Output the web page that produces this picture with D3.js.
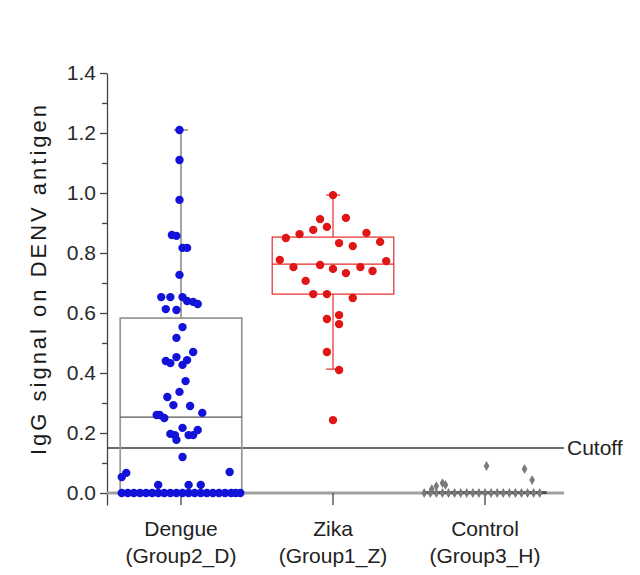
<!DOCTYPE html>
<html><head><meta charset="utf-8">
<script src="https://cdn.jsdelivr.net/npm/d3@7"></script>
<style>body{margin:0;background:#fff}</style>
</head><body>
<svg id="chart" width="640" height="575"></svg>
<script>
// Categories and their sub-labels
const categories = ["Dengue", "Zika", "Control"];
const groupLabels = ["(Group2_D)", "(Group1_Z)", "(Group3_H)"];
const yTickValues = [0, 0.2, 0.4, 0.6, 0.8, 1.0, 1.2, 1.4];
const yMinorValues = [0.1, 0.3, 0.5, 0.7, 0.9, 1.1, 1.3];
const cutoff = 0.15;

// IgG signal per sample, with horizontal jitter (in category units)
const dengueValues = [1.21, 1.11, 0.977, 0.86, 0.857, 0.817, 0.817, 0.727, 0.653, 0.653, 0.653, 0.64, 0.637, 0.63,
  0.613, 0.61, 0.553, 0.517, 0.44, 0.433, 0.453, 0.427, 0.443, 0.47, 0.373, 0.337, 0.32, 0.293, 0.29, 0.267,
  0.26, 0.26, 0.25, 0.197, 0.193, 0.177, 0.217, 0.193, 0.193, 0.21, 0.12, 0.053, 0.067, 0.07, 0.027, 0.027, 0.027,
  0, 0, 0, 0, 0, 0, 0, 0, 0, 0, 0, 0, 0, 0, 0, 0, 0, 0, 0, 0, 0];
const dengueJitter = [-0.01, -0.01, -0.01, -0.06, -0.03, 0.01, 0.04, -0.01, -0.13, -0.07, 0.01, 0.04, 0.08, 0.11,
  -0.10, -0.03, 0.01, -0.03, -0.10, -0.07, -0.03, 0.01, 0.04, 0.08, 0.03, -0.01, -0.09, -0.05, 0.06, 0.14,
  -0.16, -0.14, -0.11, -0.07, -0.04, -0.03, 0.01, 0.05, 0.08, 0.11, 0.01, -0.39, -0.36, 0.32, -0.15, 0.05, 0.13,
  -0.39, -0.35, -0.31, -0.27, -0.23, -0.19, -0.15, -0.11, -0.07, -0.03, 0.01, 0.05, 0.09, 0.13, 0.17, 0.21, 0.25,
  0.29, 0.33, 0.36, 0.39];

const zikaValues = [0.993, 0.913, 0.917, 0.887, 0.877, 0.863, 0.85, 0.867, 0.833, 0.823, 0.837, 0.777, 0.773,
  0.753, 0.76, 0.747, 0.733, 0.753, 0.74, 0.707, 0.663, 0.663, 0.65, 0.58, 0.593, 0.563, 0.47, 0.41, 0.243];
const zikaJitter = [0, -0.085, 0.085, -0.04, -0.13, -0.22, -0.31, 0.22, 0.04, 0.13, 0.31, -0.35, 0.35,
  -0.26, -0.085, 0, 0.085, 0.18, 0.26, -0.18, -0.13, -0.04, 0.13, -0.04, 0.04, 0.04, -0.04, 0.04, 0];

const controlValues = [0.09, 0.08, 0.043, 0.023, 0.033, 0.027, 0.013,
  0, 0, 0, 0, 0, 0, 0, 0, 0, 0, 0, 0, 0, 0, 0, 0, 0, 0, 0, 0];
const controlJitter = [0.01, 0.26, 0.31, -0.32, -0.28, -0.26, -0.35,
  -0.4, -0.36, -0.32, -0.28, -0.24, -0.2, -0.16, -0.12, -0.08, -0.04, 0, 0.04, 0.08, 0.12, 0.16, 0.2, 0.24, 0.28, 0.32, 0.36];

// Box statistics: [lower whisker, Q1, median, Q3, upper whisker]
const dengueBox = [0, 0, 0.253, 0.583, 1.21];
const zikaBox = [0.413, 0.663, 0.763, 0.853, 0.993];
const controlBox = [0, 0, 0, 0.003, 0];

const groups = [
  {name: "Dengue", values: dengueValues, jitter: dengueJitter, box: dengueBox, color: "#1212d8", boxColor: "#9a9a9a", medColor: "#555", shape: "circle"},
  {name: "Zika", values: zikaValues, jitter: zikaJitter, box: zikaBox, color: "#e01515", boxColor: "#e62a2a", medColor: "#e62a2a", shape: "circle"},
  {name: "Control", values: controlValues, jitter: controlJitter, box: controlBox, color: "#7a7a7a", boxColor: "#4a4a4a", medColor: "#4a4a4a", shape: "diamond"}
];

const svg = d3.select("#chart");
const font = "'Liberation Sans', Arial, sans-serif";

const x = d3.scalePoint().domain(categories).range([181, 485]);
const xUnit = x.step();            // pixels per category unit
const y = d3.scaleLinear().domain([-0.04, 1.4]).range([505, 73]);
const plotLeft = 107, plotRight = 564;
const boxHalf = 0.4 * xUnit;

// Y axis with major and minor ticks
const yAxis = svg.append("g").attr("transform", `translate(${plotLeft},0)`)
  .call(d3.axisLeft(y).tickValues(yTickValues).tickFormat(d3.format(".1f")).tickSize(7).tickPadding(4).tickSizeOuter(0));
yAxis.select(".domain").attr("stroke", "#444").attr("stroke-width", 1.3);
yAxis.selectAll(".tick line").attr("stroke", "#444").attr("stroke-width", 1.3);
yAxis.selectAll(".tick text").attr("font-family", font).attr("font-size", 21).attr("fill", "#2a2a2a");
const yMinor = svg.append("g").attr("transform", `translate(${plotLeft},0)`)
  .call(d3.axisLeft(y).tickValues(yMinorValues).tickFormat("").tickSize(5).tickSizeOuter(0));
yMinor.select(".domain").remove();
yMinor.selectAll(".tick line").attr("stroke", "#444").attr("stroke-width", 1.3);

// Axis title
svg.append("text")
  .attr("transform", `translate(46,${(y(0) + y(1.4)) / 2 - 3}) rotate(-90)`)
  .attr("text-anchor", "middle")
  .attr("font-family", font).attr("font-size", 22).attr("fill", "#1a1a1a")
  .attr("textLength", 350).attr("lengthAdjust", "spacing")
  .text("IgG signal on DENV antigen");

// Reference line at zero
svg.append("line")
  .attr("x1", plotLeft).attr("x2", plotRight).attr("y1", y(0)).attr("y2", y(0))
  .attr("stroke", "#a0a0a0").attr("stroke-width", 3);

// Category ticks
svg.append("g").selectAll("line").data(categories).join("line")
  .attr("x1", d => x(d)).attr("x2", d => x(d))
  .attr("y1", y(0)).attr("y2", y(-0.04))
  .attr("stroke", "#444").attr("stroke-width", 1.3);

// Cutoff line
svg.append("line")
  .attr("x1", plotLeft).attr("x2", plotRight).attr("y1", y(cutoff)).attr("y2", y(cutoff))
  .attr("stroke", "#3a3a3a").attr("stroke-width", 1.4);
svg.append("text")
  .attr("x", plotRight + 3).attr("y", y(cutoff) + 7)
  .attr("font-family", font).attr("font-size", 21).attr("fill", "#222")
  .text("Cutoff");

// Box plots
groups.forEach(g => {
  const cx = x(g.name);
  const [lo, q1, med, q3, hi] = g.box;
  const gb = svg.append("g");
  const sw = g.name === "Zika" ? 1.2 : 1.8;
  if (hi > q3) {
    gb.append("line").attr("x1", cx).attr("x2", cx).attr("y1", y(q3)).attr("y2", y(hi))
      .attr("stroke", g.boxColor).attr("stroke-width", sw);
    gb.append("line").attr("x1", cx - 7).attr("x2", cx + 7).attr("y1", y(hi)).attr("y2", y(hi))
      .attr("stroke", g.boxColor).attr("stroke-width", sw);
  }
  if (lo < q1) {
    gb.append("line").attr("x1", cx).attr("x2", cx).attr("y1", y(q1)).attr("y2", y(lo))
      .attr("stroke", g.boxColor).attr("stroke-width", sw);
    gb.append("line").attr("x1", cx - 7).attr("x2", cx + 7).attr("y1", y(lo)).attr("y2", y(lo))
      .attr("stroke", g.boxColor).attr("stroke-width", sw);
  }
  gb.append("rect")
    .attr("x", cx - boxHalf).attr("width", 2 * boxHalf)
    .attr("y", y(q3)).attr("height", Math.max(1, y(q1) - y(q3)))
    .attr("fill", "none").attr("stroke", g.boxColor).attr("stroke-width", sw);
  gb.append("line").attr("x1", cx - boxHalf).attr("x2", cx + boxHalf).attr("y1", y(med)).attr("y2", y(med))
    .attr("stroke", g.medColor).attr("stroke-width", 1.4);
});

// Individual samples
const diamond = d3.symbol().type(d3.symbolDiamond).size(28);
groups.forEach(g => {
  const cx = x(g.name);
  const pts = g.values.map((v, i) => ({v, j: g.jitter[i]}));
  const layer = svg.append("g");
  if (g.shape === "circle") {
    layer.selectAll("circle").data(pts).join("circle")
      .attr("cx", d => cx + d.j * xUnit).attr("cy", d => y(d.v))
      .attr("r", 4.2).attr("fill", g.color);
  } else {
    layer.selectAll("path").data(pts).join("path")
      .attr("d", diamond)
      .attr("transform", d => `translate(${cx + d.j * xUnit},${y(d.v)})`)
      .attr("fill", g.color);
  }
});

// Category labels
const xl = svg.append("g");
categories.forEach((c, i) => {
  xl.append("text").attr("x", x(c)).attr("y", 536).attr("text-anchor", "middle")
    .attr("font-family", font).attr("font-size", 21).attr("fill", "#222").text(c);
  xl.append("text").attr("x", x(c)).attr("y", 563).attr("text-anchor", "middle")
    .attr("font-family", font).attr("font-size", 21).attr("fill", "#222").text(groupLabels[i]);
});
</script>
</body></html>
